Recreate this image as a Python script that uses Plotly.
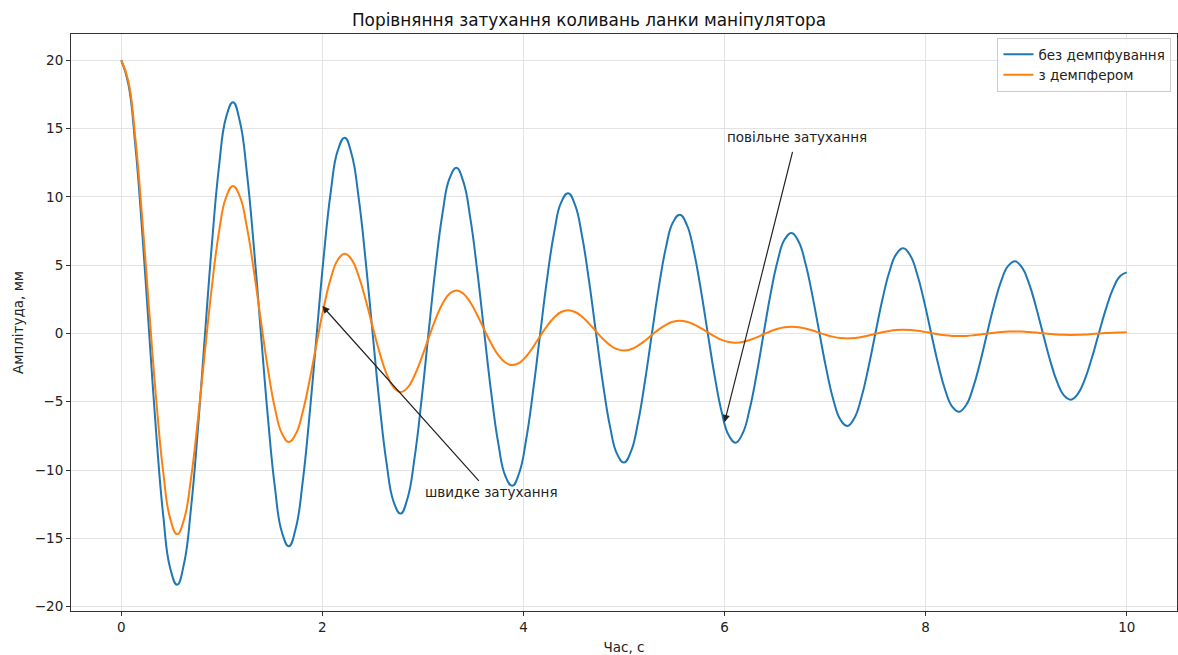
import plotly.graph_objects as go

t_step = 10 / 144
y_free = [
    20.00, 18.29, 13.85, 7.42, 0.00, -7.27, -13.29, -17.18,
    -18.40, -16.82, -12.74, -6.82, 0.00, 6.68, 12.22, 15.80,
    16.93, 15.48, 11.72, 6.28, 0.00, -6.15, -11.25, -14.54,
    -15.58, -14.24, -10.79, -5.78, 0.00, 5.66, 10.35, 13.38,
    14.33, 13.10, 9.92, 5.31, 0.00, -5.21, -9.52, -12.31,
    -13.19, -12.06, -9.13, -4.89, 0.00, 4.79, 8.76, 11.33,
    12.13, 11.09, 8.40, 4.50, 0.00, -4.41, -8.06, -10.42,
    -11.16, -10.20, -7.73, -4.14, 0.00, 4.05, 7.41, 9.59,
    10.27, 9.39, 7.11, 3.81, 0.00, -3.73, -6.82, -8.82,
    -9.45, -8.64, -6.54, -3.50, 0.00, 3.43, 6.28, 8.12,
    8.69, 7.95, 6.02, 3.22, 0.00, -3.16, -5.77, -7.46,
    -8.00, -7.31, -5.54, -2.97, 0.00, 2.91, 5.31, 6.87,
    7.36, 6.73, 5.10, 2.73, 0.00, -2.67, -4.89, -6.32,
    -6.77, -6.19, -4.69, -2.51, 0.00, 2.46, 4.50, 5.81,
    6.23, 5.70, 4.31, 2.31, 0.00, -2.26, -4.14, -5.35,
    -5.73, -5.24, -3.97, -2.13, 0.00, 2.08, 3.81, 4.92,
    5.28, 4.83, 3.66, 1.96, 0.00, -1.92, -3.51, -4.53,
    -4.85, -4.43, -3.36, -1.80, 0.00, 1.76, 3.22, 4.17,
    4.47,
]
y_damp = [
    20.00, 18.50, 14.38, 8.43, 1.68, -4.82, -10.12, -13.54,
    -14.70, -13.60, -10.57, -6.20, -1.23, 3.54, 7.44, 9.95,
    10.80, 9.99, 7.76, 4.55, 0.91, -2.60, -5.47, -7.31,
    -7.94, -7.35, -5.71, -3.35, -0.67, 1.91, 4.02, 5.38,
    5.84, 5.40, 4.20, 2.46, 0.49, -1.41, -2.96, -3.95,
    -4.29, -3.97, -3.08, -1.81, -0.36, 1.03, 2.17, 2.90,
    3.15, 2.91, 2.26, 1.33, 0.26, -0.76, -1.59, -2.13,
    -2.32, -2.15, -1.67, -0.98, -0.19, 0.56, 1.17, 1.57,
    1.70, 1.57, 1.22, 0.72, 0.14, -0.41, -0.86, -1.15,
    -1.25, -1.16, -0.90, -0.53, -0.105, 0.30, 0.63, 0.85,
    0.92, 0.85, 0.66, 0.39, 0.077, -0.22, -0.47, -0.62,
    -0.676, -0.625, -0.486, -0.285, -0.057, 0.163, 0.342, 0.458,
    0.497, 0.460, 0.357, 0.210, 0.042, -0.120, -0.252, -0.336,
    -0.365, -0.338, -0.262, -0.154, -0.031, 0.088, 0.185, 0.247,
    0.268, 0.248, 0.193, 0.113, 0.023, -0.065, -0.136, -0.181,
    -0.197, -0.182, -0.142, -0.083, -0.017, 0.047, 0.100, 0.133,
    0.145, 0.134, 0.104, 0.061, 0.012, -0.035, -0.073, -0.098,
    -0.107, -0.099, -0.077, -0.045, -0.009, 0.026, 0.054, 0.072,
    0.079,
]
t = [round(i * t_step, 4) for i in range(len(y_free))]

series_names = ["без демпфування", "з демпфером"]
colors = ["#1f77b4", "#ff7f0e"]

x_ticks = [0, 2, 4, 6, 8, 10]
y_ticks = [-20, -15, -10, -5, 0, 5, 10, 15, 20]

fig = go.Figure()
for ys, name, c in zip([y_free, y_damp], series_names, colors):
    fig.add_trace(go.Scatter(x=t, y=ys, mode="lines", name=name,
                             line=dict(color=c, width=2, shape="spline", smoothing=1.3, simplify=False)))

ann_color = "#222222"
# arrows
fig.add_annotation(x=2.0, y=2.0, ax=3.57, ay=-10.9, xref="x", yref="y", axref="x", ayref="y",
                   text="", showarrow=True, arrowhead=2, arrowsize=1.2, arrowwidth=1.2, arrowcolor=ann_color)
fig.add_annotation(x=6.0, y=-6.5, ax=6.68, ay=13.4, xref="x", yref="y", axref="x", ayref="y",
                   text="", showarrow=True, arrowhead=2, arrowsize=1.2, arrowwidth=1.2, arrowcolor=ann_color)
# texts
fig.add_annotation(x=3.0, y=-12.0, xref="x", yref="y", text="швидке затухання", showarrow=False,
                   xanchor="left", yanchor="bottom", yshift=-5, font=dict(size=13.5, color=ann_color))
fig.add_annotation(x=6.0, y=14.0, xref="x", yref="y", text="повільне затухання", showarrow=False,
                   xanchor="left", yanchor="bottom", yshift=-5, font=dict(size=13.5, color=ann_color))

axis_common = dict(showline=True, mirror=True, linecolor="#333333", linewidth=1,
                   ticks="outside", ticklen=4, tickcolor="#333333", automargin=False,
                   showgrid=True, gridcolor="#e3e3e3", gridwidth=1, zeroline=False,
                   tickfont=dict(size=13.5, color="#222222"))

fig.update_layout(
    width=1178, height=655,
    margin=dict(l=71, r=1, t=34, b=44),
    paper_bgcolor="white", plot_bgcolor="white",
    font=dict(family="DejaVu Sans", color="#222222"),
    title=dict(text="Порівняння затухання коливань ланки маніпулятора", x=0.5, xanchor="center",
               y=1 - 20 / 655, yanchor="middle", yref="container", font=dict(size=16.9, color="#111111")),
    xaxis=dict(range=[-0.5, 10.5], tickvals=x_ticks,
               title=dict(text="Час, с", font=dict(size=13.5), standoff=8), **axis_common),
    yaxis=dict(range=[-20.32, 21.92], tickvals=y_ticks,
               title=dict(text="Амплітуда, мм", font=dict(size=13.5), standoff=8), **axis_common),
    legend=dict(x=0.995, y=0.993, xanchor="right", yanchor="top", bgcolor="rgba(255,255,255,0.8)",
                bordercolor="#cccccc", borderwidth=1, font=dict(size=13.5), tracegroupgap=0),
    showlegend=True,
)
fig.write_html("out.html", config={"displayModeBar": False},
               post_script="document.body.style.margin='0';document.body.style.overflow='hidden';")
